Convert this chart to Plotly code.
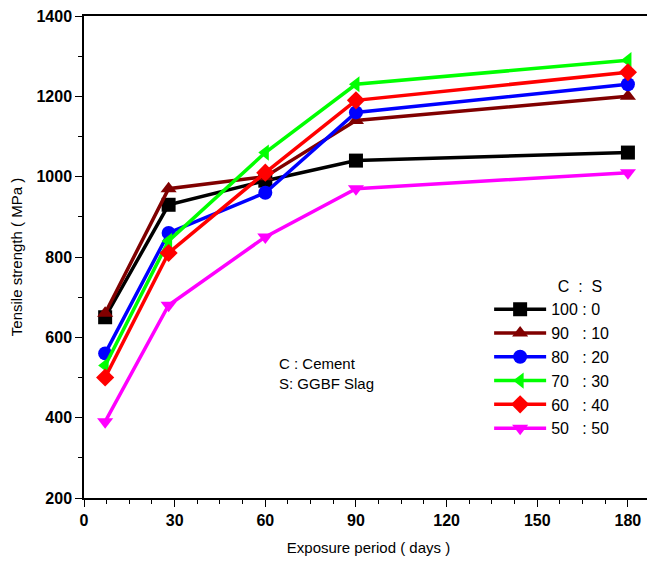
import plotly.graph_objects as go

days = [7, 28, 60, 90, 180]
s100_0 = [650, 930, 990, 1040, 1060]
s90_10 = [660, 970, 1000, 1140, 1200]
s80_20 = [560, 860, 960, 1160, 1230]
s70_30 = [530, 840, 1060, 1230, 1290]
s60_40 = [500, 810, 1010, 1190, 1260]
s50_50 = [390, 680, 850, 970, 1010]

series = [
    ("100 : 0", s100_0, "#000000", "square"),
    ("90   : 10", s90_10, "#800000", "triangle-up"),
    ("80   : 20", s80_20, "#0000ff", "circle"),
    ("70   : 30", s70_30, "#00ff00", "triangle-left"),
    ("60   : 40", s60_40, "#ff0000", "diamond"),
    ("50   : 50", s50_50, "#ff00ff", "triangle-down"),
]

fig = go.Figure()
for name, vals, col, sym in series:
    fig.add_trace(go.Scatter(
        x=days, y=vals, name=name, mode="lines+markers",
        line=dict(color=col, width=3.5),
        marker=dict(symbol=sym, size=14, color=col),
    ))

font = "Liberation Sans, Arial, sans-serif"
fig.update_layout(
    width=655, height=561,
    margin=dict(l=76, r=10, t=8, b=71),
    plot_bgcolor="white", paper_bgcolor="white",
    font=dict(family=font, color="black", size=15),
    legend=dict(
        x=0.712, y=0.47, xanchor="left", yanchor="top",
        bgcolor="rgba(0,0,0,0)",
        font=dict(size=16, family=font),
        title=dict(text="               C  :  S", font=dict(size=16, family=font)),
        tracegroupgap=0, itemwidth=52,
    ),
    xaxis=dict(
        range=[0, 188.3], tickmode="linear", tick0=0, dtick=30,
        ticks="outside", ticklen=7, tickwidth=1.2, tickcolor="black",
        showline=True, linecolor="black", linewidth=1.5, mirror=True,
        showgrid=False, zeroline=False, automargin=False,
        ticklabeloverflow="allow",
        tickfont=dict(size=16, family=font, weight="bold"),
        minor=dict(dtick=7.5, ticks="outside", ticklen=4, tickcolor="black", tickwidth=1.2),
        title=dict(text="Exposure period ( days )", font=dict(size=15), standoff=15),
    ),
    yaxis=dict(
        range=[200, 1400], tickmode="linear", tick0=200, dtick=200,
        ticks="outside", ticklen=7, tickwidth=1.2, tickcolor="black",
        showline=True, linecolor="black", linewidth=1.5,
        showgrid=False, zeroline=False, automargin=False,
        ticklabeloverflow="allow",
        tickfont=dict(size=16, family=font, weight="bold"),
        minor=dict(dtick=100, ticks="outside", ticklen=4, tickcolor="black", tickwidth=1.2),
        title=dict(text="Tensile strength ( MPa )", font=dict(size=15), standoff=18),
    ),
)

fig.add_annotation(
    x=0.34, y=0.30, xref="paper", yref="paper", xanchor="left", yanchor="top",
    text="C : Cement<br>S: GGBF Slag", showarrow=False, align="left",
    font=dict(size=15, family=font),
)

fig.write_html("out.html")
